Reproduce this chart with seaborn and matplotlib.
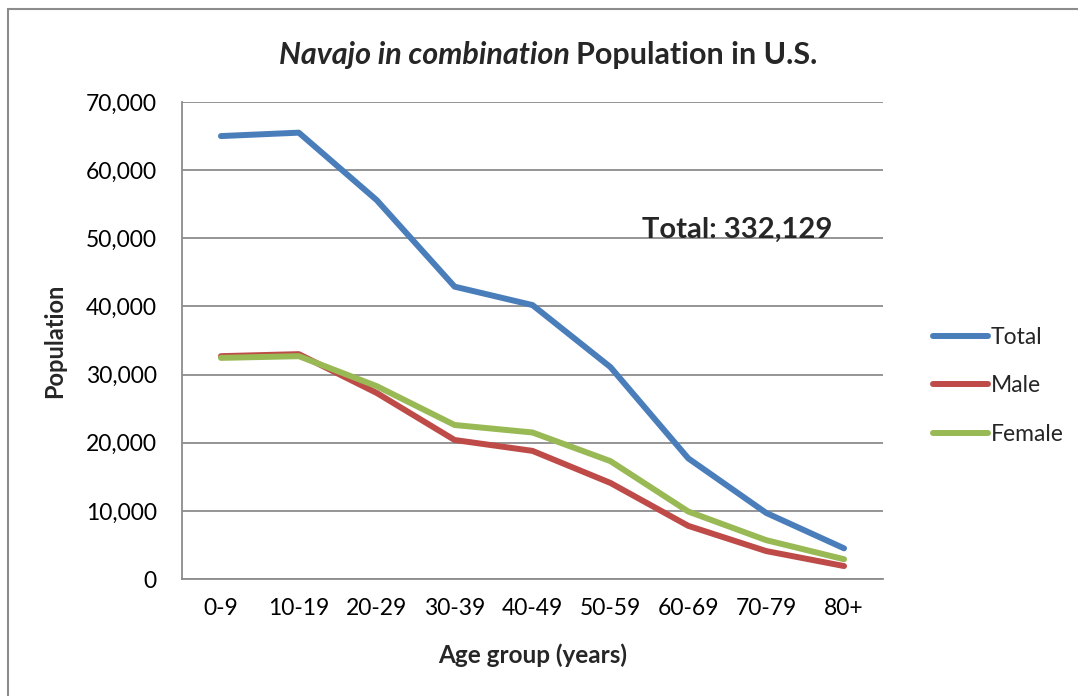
import numpy as np
import pandas as pd
import matplotlib
matplotlib.use("Agg")
import matplotlib.pyplot as plt
import seaborn as sns
from matplotlib.patches import Rectangle
from matplotlib.ticker import FuncFormatter, FixedLocator

age_groups = ["0-9", "10-19", "20-29", "30-39", "40-49", "50-59", "60-69", "70-79", "80+"]
total = [65000, 65500, 55600, 42900, 40200, 31100, 17700, 9700, 4500]
male = [32700, 33000, 27300, 20400, 18800, 14100, 7800, 4100, 1900]
female = [32450, 32700, 28300, 22600, 21500, 17300, 9900, 5700, 2900]
series_names = ["Total", "Male", "Female"]
colors = ["#4A7EBB", "#BE4B48", "#98B954"]

sns.set_theme(style="white")
plt.rcParams["font.family"] = ["Lato", "DejaVu Sans"]

df = pd.DataFrame({
    "pos": list(range(len(age_groups))) * 3,
    "value": total + male + female,
    "series": [s for s in series_names for _ in age_groups],
})

W, H = 1078, 696
fig = plt.figure(figsize=(W / 100, H / 100), dpi=100)
fig.patch.set_facecolor("white")
ax = fig.add_axes([182 / W, 1 - 579 / H, (883 - 182) / W, (579 - 102) / H])

LW = 4.3
sns.lineplot(data=df, x="pos", y="value", hue="series", hue_order=series_names,
             palette=colors, linewidth=LW, ax=ax, legend=True, sort=False,
             solid_capstyle="round", solid_joinstyle="round")

ax.set_xlim(-0.5, len(age_groups) - 0.5)
ax.set_ylim(0, 70000)
ax.set_yticks(np.arange(0, 70001, 10000))
ax.yaxis.set_major_formatter(FuncFormatter(lambda v, p: f"{int(v):,}"))
ax.set_xticks(range(len(age_groups)))
ax.set_xticklabels(age_groups)
ax.xaxis.set_minor_locator(FixedLocator(np.arange(-0.5, len(age_groups), 1.0)))
ax.tick_params(axis="x", which="major", length=0, pad=14, labelsize=16.5, colors="black")
ax.tick_params(axis="x", which="minor", length=7, width=1.3, color="#8C8C8C", direction="out")
ax.tick_params(axis="y", which="major", length=8, width=1.3, color="#8C8C8C", direction="out",
               pad=10, labelsize=16.5, labelcolor="black")
ax.tick_params(axis="x", labelcolor="black")

ax.grid(axis="y", color="#8C8C8C", linewidth=1.3)
ax.grid(axis="x", visible=False)
ax.set_axisbelow(True)
for s in ["top", "right"]:
    ax.spines[s].set_visible(False)
for s in ["left", "bottom"]:
    ax.spines[s].set_color("#8C8C8C")
    ax.spines[s].set_linewidth(1.3)

ax.set_xlabel("Age group (years)", fontsize=17.5, fontweight="bold", labelpad=17)
ax.set_ylabel("Population", fontsize=17, fontweight="bold", labelpad=14)

ax.text(6.63, 51300, "Total: 332,129", fontsize=21, fontweight="bold",
        ha="center", va="center")

# title with italic part
title_size = 22
ty = 1 - 55 / H
tmp1 = fig.text(0, 0, "Navajo in combination ", fontsize=title_size, fontweight="bold", style="italic")
tmp2 = fig.text(0, 0, "Population in U.S.", fontsize=title_size, fontweight="bold")
fig.canvas.draw()
r = fig.canvas.get_renderer()
w1 = tmp1.get_window_extent(r).width
w2 = tmp2.get_window_extent(r).width
x0 = 548 - (w1 + w2) / 2
tmp1.set_position((x0 / W, ty))
tmp1.set_va("center")
tmp2.set_position(((x0 + w1) / W, ty))
tmp2.set_va("center")

leg = ax.legend(loc="center left", bbox_to_anchor=(922 / W, 1 - 386 / H),
                bbox_transform=fig.transFigure, frameon=False, fontsize=16.5,
                handlelength=2.4, handletextpad=0.1, labelspacing=1.2, borderpad=0)
for line in leg.get_lines():
    line.set_linewidth(LW)

fig.patches.append(Rectangle((8 / W, -0.05), 1.2, 1 - 9 / H + 0.05, transform=fig.transFigure,
                             fill=False, edgecolor="#8C8C8C", linewidth=1.5))

fig.savefig("out.png", dpi=100)
